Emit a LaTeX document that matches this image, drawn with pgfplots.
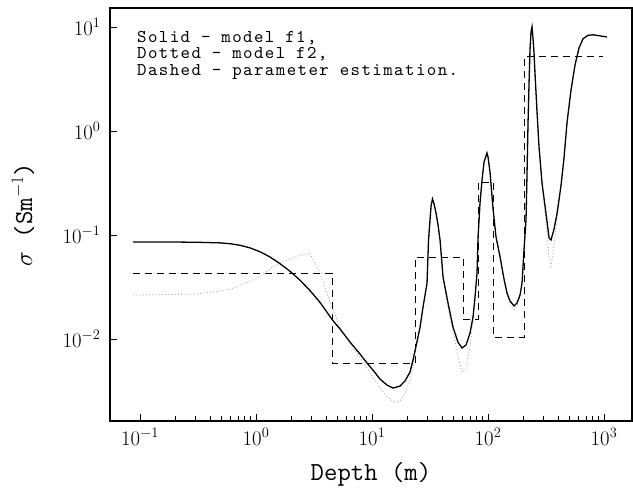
\documentclass[border=0pt]{standalone}
\usepackage{fontspec}
\usepackage{pgfplots}
\pgfplotsset{compat=1.18}
\newfontfamily\legfont{lmmono10-regular}[Extension=.otf, LetterSpace=8]
\pgfplotstableread{
x y
0.0871 0.0856
0.221 0.0855
0.329 0.0850
0.489 0.0840
0.597 0.0825
0.728 0.0797
0.888 0.0752
1.083 0.0690
1.320 0.0615
1.610 0.0530
1.964 0.0448
2.394 0.0368
2.921 0.0292
3.562 0.0225
4.611 0.0150
5.298 0.0125
6.461 0.00936
7.881 0.00717
9.056 0.00588
10.61 0.00476
11.72 0.00412
13.47 0.00361
15.17 0.00338
17.43 0.00353
19.25 0.00395
21.27 0.00482
22.56 0.00628
23.95 0.00856
25.94 0.0130
27.53 0.0203
29.80 0.0345
30.7 0.0895
31.62 0.139
32.3 0.190
33.2 0.222
34.24 0.200
35.6 0.163
37.07 0.125
38.6 0.0895
40.94 0.0395
45.20 0.0222
49.93 0.0130
55.13 0.0093
59.70 0.0082
64.61 0.00876
69.96 0.0114
74.27 0.0163
77.27 0.0253
80.40 0.0431
82.0 0.0936
85.3 0.203
88.8 0.338
92.4 0.503
98.0 0.614
100 0.562
104 0.404
110.4 0.180
117.2 0.0957
126.9 0.062
137.4 0.0377
145.8 0.0277
154.8 0.0232
167.5 0.0208
177.8 0.0222
188.8 0.0265
196.5 0.0345
204.3 0.0717
212.6 0.14
217 0.40
221.3 1.2
226 3.0
230.1 6.0
234.8 8.94
239.5 10.0
244 7.84
249.3 5.62
254 3.61
259.4 2.32
264 1.59
275.3 0.70
292.1 0.316
310 0.19
322.6 0.135
335.7 0.094
349.3 0.0895
370.7 0.114
393.4 0.16
426 0.30
452 0.55
479.8 1.2
519.5 2.48
562.3 4.31
609 6.27
659.2 7.7
728 8.3
803.9 8.4
923.5 8.2
1061.5 8.0
}\solidtab
\pgfplotstableread{
x y
0.0871 0.0265
0.3 0.027
0.6 0.030
1.0 0.038
1.5 0.052
2.2 0.062
2.9 0.067
3.5 0.045
4.2 0.025
5.3 0.0128
6.461 0.0090
7.881 0.0066
9.056 0.0052
10.61 0.0040
11.72 0.0034
13.47 0.0028
15.5 0.00248
17.43 0.00255
19.25 0.0030
21.27 0.0040
22.56 0.0055
23.95 0.0080
25.94 0.0125
27.53 0.0200
29.80 0.0345
30.7 0.0895
31.62 0.139
32.3 0.190
33.2 0.222
34.24 0.200
35.6 0.163
37.07 0.125
38.6 0.0895
40.94 0.0380
45.20 0.0200
49.93 0.0118
55.13 0.0068
59.70 0.0048
64.61 0.0052
69.96 0.0085
74.27 0.0150
77.27 0.0250
80.40 0.0431
82.0 0.0936
85.3 0.203
88.8 0.338
92.4 0.503
98.0 0.614
100 0.562
104 0.404
110.4 0.180
117.2 0.0957
126.9 0.062
137.4 0.0370
145.8 0.0260
154.8 0.0210
167.5 0.0190
177.8 0.0210
188.8 0.0260
196.5 0.0345
204.3 0.0717
212.6 0.14
217 0.40
221.3 1.2
226 3.0
230.1 6.0
234.8 8.94
239.5 10.0
244 7.84
249.3 5.62
254 3.61
259.4 2.32
264 1.59
275.3 0.70
292.1 0.316
310 0.17
322.6 0.10
335.7 0.060
349.3 0.050
370.7 0.080
393.4 0.14
426 0.30
452 0.55
479.8 1.2
519.5 2.48
562.3 4.31
609 6.27
659.2 7.7
728 8.3
803.9 8.4
923.5 8.2
1061.5 8.0
}\dottab
\pgfplotstableread{
x y
0.0871 0.0431
4.52 0.0431
4.52 0.00588
23.5 0.00588
23.5 0.0614
60.9 0.0614
60.9 0.01557
82.0 0.01557
82.0 0.3236
110.4 0.3236
110.4 0.01045
204.3 0.01045
204.3 5.15
980 5.15
}\dashtab
\begin{document}
\begin{tikzpicture}
\begin{axis}[
  scale only axis, width=522pt, height=413pt,
  xmode=log, ymode=log,
  xmin=0.0551, xmax=1743, ymin=0.00163, ymax=15.2,
  axis line style={line width=1.1pt},
  tick align=inside, tick pos=left,
  xtick={0.1,1,10,100,1000}, ytick={0.01,0.1,1,10},
  yminorticks=false,
  major tick length=7pt, minor tick length=5pt,
  every tick/.style={line width=0.6pt, black},
  tick label style={font=\fontsize{22}{25}\selectfont},
  yticklabel style={xshift=-6pt},
  xticklabel style={yshift=-4pt},
  xlabel={Depth (m)}, ylabel={$\sigma$ (Sm$^{-1}$)},
  xlabel style={font=\ttfamily\fontsize{26}{30}\selectfont, at={(axis description cs:0.5,-0.143)}, anchor=base},
  ylabel style={font=\ttfamily\fontsize{26}{30}\selectfont, at={(axis description cs:-0.1494,0.5)}, anchor=base},
]
\addplot[black!35, line width=0.8pt, dash pattern=on 1pt off 2.2pt] table {\dottab};
\addplot[black, line width=0.8pt, dash pattern=on 7pt off 5pt] table {\dashtab};
\addplot[black, line width=1.3pt] table {\solidtab};
\node[anchor=north west, inner sep=0pt, align=left, font=\legfont\fontsize{18}{16.5}\selectfont] at (axis description cs:0.0517,0.945) {Solid \textendash{} model f1,\\Dotted \textendash{} model f2,\\Dashed \textendash{} parameter estimation.};
\end{axis}
\pgfresetboundingbox
\path ([xshift=-110pt,yshift=-66pt]current axis.south west) rectangle ([xshift=1pt,yshift=8pt]current axis.north east);
\end{tikzpicture}
\end{document}
